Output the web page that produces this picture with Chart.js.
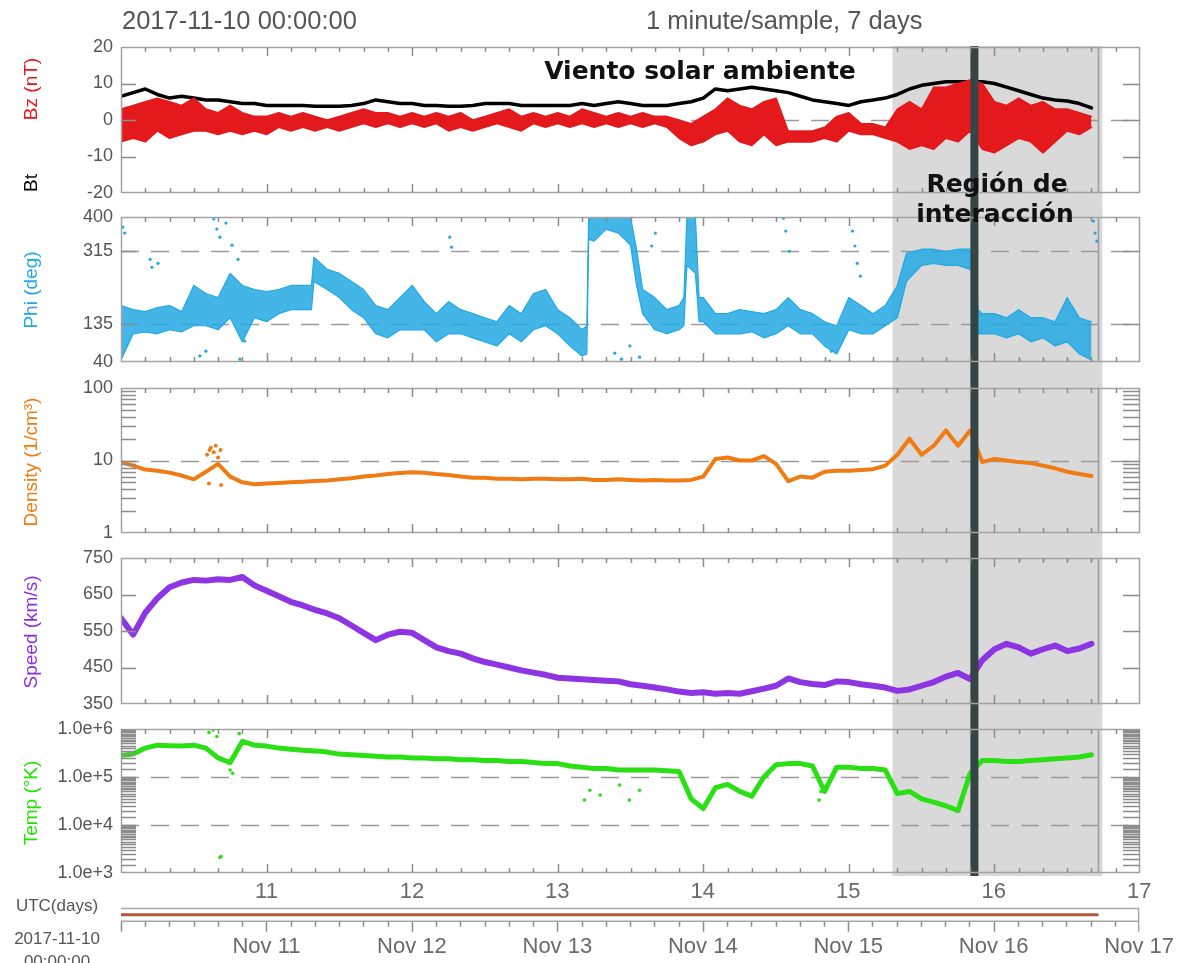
<!DOCTYPE html>
<html lang="es">
<head>
<meta charset="utf-8">
<title>Viento solar 2017-11-10, 7 días</title>
<script src="https://cdn.jsdelivr.net/npm/chart.js@4.4.1/dist/chart.umd.min.js"></script>
<style>
  html, body { margin: 0; padding: 0; background: #fff; }
  #stage { position: relative; width: 1186px; height: 963px; overflow: hidden;
           font-family: 'Liberation Sans', Arial, sans-serif; }
  #stage canvas { position: absolute; left: 0; }
  .txt { position: absolute; white-space: nowrap; line-height: 1; z-index: 4; }
  .c { transform: translate(-50%, -50%); }
  .l { transform: translate(0, -50%); }
  .v { transform: translate(-50%, -50%) rotate(-90deg); font-size: 19px; }
  .note { font-family: 'DejaVu Sans', sans-serif; font-weight: bold; font-size: 25px; color: #111; z-index: 6; }
</style>
</head>
<body>
<div id="stage">
  <div class="txt l" style="left:122px;top:21px;font-size:25.5px;color:#555;">2017-11-10 00:00:00</div>
  <div class="txt l" style="left:646px;top:21px;font-size:25.5px;color:#555;">1 minute/sample, 7 days</div>

  <div class="txt v" style="left:30px;top:89px;color:#e8141c;">Bz (nT)</div>
  <div class="txt v" style="left:30px;top:183px;color:#000;">Bt</div>
  <div class="txt v" style="left:30px;top:290px;color:#1fa8e6;">Phi (deg)</div>
  <div class="txt v" style="left:30px;top:462px;color:#f27a10;">Density (1/cm³)</div>
  <div class="txt v" style="left:30px;top:632px;color:#8c2ee6;">Speed (km/s)</div>
  <div class="txt v" style="left:30px;top:803px;color:#22e000;">Temp (°K)</div>

  <div class="txt c note" style="left:700px;top:70px;">Viento solar ambiente</div>
  <div class="txt c note" style="left:997px;top:183px;">Región de</div>
  <div class="txt c note" style="left:995px;top:213px;">interacción</div>

  <div class="txt c" style="left:57px;top:905px;font-size:17px;color:#555;">UTC(days)</div>
  <div class="txt c" style="left:57px;top:938px;font-size:17px;color:#555;">2017-11-10</div>
  <div class="txt c" style="left:57px;top:961px;font-size:17px;color:#555;">00:00:00</div>
</div>

<script>
// ---- Solar wind readings, one value every two hours from 2017-11-10 00:00 UTC ----
const SAMPLE_STEP_H = 2;
const SPAN_H = 168;

// Total field Bt (nT)
const btValues = [
  6.5, 7.5, 8.5, 7, 6, 6.5, 6, 5.5, 5.5, 5,
  4.5, 4.5, 4, 4, 4, 4, 3.8, 3.8, 3.8, 4,
  4.5, 5.5, 5, 4.5, 4.5, 4, 4, 3.8, 3.8, 4,
  4.5, 4.5, 4.5, 4, 4, 4, 4, 4, 4.5, 4,
  4.5, 5, 4.5, 4, 4, 4, 4.5, 5, 6, 8.5,
  8, 8.5, 9, 8.5, 8, 7.5, 6.5, 5.5, 5, 4.5,
  4, 5, 5.5, 6, 7, 8.5, 9.5, 10, 10.5, 10.5,
  10.5, 10.5, 10, 9, 8, 7, 6, 5.5, 5.2, 4.5, 3.3
];
// Bz spread within each two-hour bin (nT)
const bzLow = [
  -6, -5, -6, -3, -5, -4, -3, -3, -4, -3,
  -4, -3, -4, -2, -3, -2, -3, -2, -3, -2,
  -1, -2, -1, -2, -1, -2, -1, -3, -2, -3,
  -2, -1, -2, -3, -1, -2, -1, -2, -1, -2,
  -1, -2, -1, -2, -1, -2, -5, -7, -6, -4,
  -3, -6, -7, -4, -7, -6, -6, -6, -5, -6,
  -3, -4, -4, -5, -6, -8, -7, -8, -5, -6,
  -3, -8, -9, -7, -5, -6, -9, -6, -3, -4, -2
];
const bzHigh = [
  3, 4, 5, 6, 5, 4, 6, 3, 2, 4,
  2, 1, 1, 2, 1, 2, 1, 0, 1, 2,
  3, 2, 2, 1, 2, 1, 2, 1, 2, 0,
  1, 2, 3, 1, 2, 1, 2, 1, 3, 2,
  1, 2, 1, 2, 1, 1, 0, -1, 1, 3,
  6, 4, 3, 5, 6, -3, -3, -3, -2, 1,
  2, -1, -1, -2, 3, 5, 3, 9, 9, 10,
  11, 10, 5, 4, 6, 4, 5, 3, 3, 2, 1
];
// Phi main band: reading times (h) with the low and high edge of the band (deg)
const phiHours = [
  0, 2, 4, 6, 8, 10, 12, 14, 16, 18,
  20, 22, 24, 26, 28, 30, 31.4, 31.8, 34, 36,
  38, 40, 42, 44, 46, 48, 50, 52, 54, 56,
  58, 60, 62, 64, 66, 68, 70, 72, 74, 76,
  76.8, 77.1, 78, 80, 82, 84, 85, 86, 88, 90,
  92, 92.8, 93.3, 94.7, 95.3, 96, 98, 100, 102, 104,
  106, 108, 110, 112, 114, 116, 118, 120, 122, 124,
  126, 128, 129.5, 132, 134, 136, 138, 140, 140.8, 141.3,
  142, 144, 146, 148, 150, 152, 154, 156, 158, 160
];
const phiLow = [
  45, 110, 115, 110, 120, 115, 130, 130, 120, 150,
  90, 150, 140, 160, 170, 170, 170, 240, 220, 200,
  170, 150, 110, 100, 120, 120, 120, 90, 110, 110,
  100, 90, 80, 110, 90, 120, 130, 110, 80, 55,
  60, 345, 340, 370, 360, 330, 230, 160, 120, 110,
  120, 130, 280, 260, 140, 140, 110, 110, 110, 115,
  100, 110, 130, 110, 110, 80, 60, 120, 110, 110,
  130, 150, 240, 280, 285, 280, 280, 270, 250, 110,
  110, 110, 100, 110, 90, 100, 80, 90, 60, 45
];
const phiHigh = [
  180, 170, 165, 175, 180, 165, 230, 210, 200, 260,
  230, 220, 215, 220, 230, 230, 230, 300, 270, 260,
  240, 220, 180, 170, 200, 230, 190, 160, 190, 170,
  160, 150, 140, 180, 160, 210, 220, 170, 150, 120,
  130, 400, 400, 400, 400, 400, 320, 220, 200, 170,
  180, 200, 400, 400, 200, 200, 160, 160, 170, 165,
  160, 170, 200, 170, 160, 140, 130, 200, 180, 160,
  180, 230, 310, 320, 320, 315, 320, 320, 320, 170,
  160, 160, 150, 170, 150, 150, 140, 200, 150, 140
];
// Isolated Phi readings outside the main band: time (h) and angle (deg)
const phiSpotHours = [0.1, 0.3, 0.6, 4.8, 5.1, 6.1, 13, 14, 15.3, 15.8, 16.3, 17.3, 18.3, 19.3, 19.6, 20.4,
  54.2, 54.5, 81.4, 82.5, 83.9, 85.5, 87.5, 88.1, 109.2, 109.6, 110.2, 116.8, 117.1,
  120.6, 121, 121.4, 121.9, 160.3, 160.6, 160.9];
const phiSpotDeg = [400, 375, 360, 295, 275, 285, 55, 67, 395, 370, 350, 385, 330, 295, 47, 92,
  350, 325, 62, 47, 80, 52, 328, 360, 397, 365, 315, 42, 67,
  365, 328, 285, 253, 390, 360, 340];
// Proton density (1/cm3)
const densityValues = [
  9.5, 8.5, 7.5, 7.2, 6.8, 6.2, 5.5, 7, 9, 6,
  5, 4.7, 4.8, 4.9, 5, 5.1, 5.2, 5.3, 5.5, 5.7,
  6, 6.2, 6.5, 6.7, 6.9, 6.8, 6.5, 6.3, 6, 5.8,
  5.8, 5.6, 5.6, 5.5, 5.6, 5.6, 5.5, 5.5, 5.6, 5.4,
  5.4, 5.5, 5.4, 5.3, 5.4, 5.3, 5.3, 5.4, 6, 10.5,
  11, 10, 10, 11.5, 9, 5.2, 6, 5.8, 7, 7.2,
  7.2, 7.4, 7.6, 8.5, 12, 20, 12, 16, 26, 16,
  26, 9.5, 10.5, 10, 9.5, 9.2, 8.5, 7.8, 7, 6.5, 6.1
];
// Isolated density readings: time (h) and value (1/cm3)
const densitySpotHours = [14.2, 14.6, 14.8, 15.3, 15.6, 16.0, 16.4, 14.5, 16.5];
const densitySpotValues = [12, 14, 15, 13, 16, 11, 14, 4.8, 4.6];
// Bulk speed (km/s)
const speedValues = [
  585, 540, 600, 640, 670, 683, 690, 688, 692, 690,
  698, 675, 660, 645, 630, 620, 608, 598, 585, 565,
  545, 525, 540, 548, 545, 525, 505, 495, 488, 475,
  465, 458, 450, 442, 436, 430, 422, 420, 418, 416,
  414, 412, 404, 400, 395, 390, 384, 380, 382, 378,
  380, 378, 385, 392, 400, 420, 410, 405, 402, 412,
  410, 404, 400, 395, 386, 390, 400, 410, 425, 435,
  418, 470, 500, 515, 505, 488, 500, 510, 495, 502, 515
];
// Proton temperature (K)
const tempValues = [
  2.8e5, 3.0e5, 4.0e5, 4.6e5, 4.5e5, 4.4e5, 4.6e5, 4.0e5, 2.5e5, 2.0e5,
  5.5e5, 4.6e5, 4.4e5, 4.0e5, 3.8e5, 3.6e5, 3.5e5, 3.3e5, 3.0e5, 2.9e5,
  2.8e5, 2.7e5, 2.6e5, 2.6e5, 2.5e5, 2.5e5, 2.4e5, 2.4e5, 2.3e5, 2.3e5,
  2.2e5, 2.2e5, 2.1e5, 2.1e5, 2.0e5, 1.9e5, 1.9e5, 1.7e5, 1.6e5, 1.5e5,
  1.5e5, 1.4e5, 1.4e5, 1.4e5, 1.4e5, 1.35e5, 1.3e5, 3.5e4, 2.2e4, 6e4,
  7e4, 5e4, 4e4, 1.0e5, 1.8e5, 1.9e5, 1.9e5, 1.7e5, 5e4, 1.6e5,
  1.6e5, 1.5e5, 1.5e5, 1.4e5, 4.5e4, 5e4, 3.5e4, 3e4, 2.5e4, 2e4,
  1.2e5, 2.2e5, 2.2e5, 2.1e5, 2.1e5, 2.2e5, 2.3e5, 2.4e5, 2.5e5, 2.6e5, 2.9e5
];
// Isolated temperature readings: time (h) and value (K)
const tempSpotHours = [14.5, 15.2, 15.8, 16.3, 16.5, 18, 18.4, 19.5, 76.4, 77.3, 79, 82.2, 83.8, 85.5, 115.1, 115.4];
const tempSpotK = [8.5e5, 9.5e5, 7e5, 2.1e3, 2.2e3, 1.4e5, 1.2e5, 8e5, 3.3e4, 5.3e4, 4.2e4, 6.8e4, 3.3e4, 5.3e4, 3.3e4, 5e4];

// Time markers (hours after the start)
const regionStartH = 127.2;
const regionEndH = 161.8;
const boundaryH = 140.7;
const dataEndH = 161.1;

// Day labels of the time axis
const dayTickHours = [24, 48, 72, 96, 120, 144, 168];
const dayNumbers = ['11', '12', '13', '14', '15', '16', '17'];
const dayDates = ['Nov 11', 'Nov 12', 'Nov 13', 'Nov 14', 'Nov 15', 'Nov 16', 'Nov 17'];

// ---- drawing ----
const FONT = "'Liberation Sans', Arial, sans-serif";
Chart.defaults.font.family = FONT;
const stage = document.getElementById('stage');
const PLOT_LEFT = 121, PLOT_RIGHT = 1140, W = 1186, MARGIN = 24;

const sampleHours = btValues.map((_, i) => i * SAMPLE_STEP_H);
const series = vals => vals.map((v, i) => ({ x: sampleHours[i], y: v }));
const pairs = (hs, vs) => hs.map((h, i) => ({ x: h, y: vs[i] }));

function lineSet(data, color, width, extra) {
  return Object.assign({ data, borderColor: color, backgroundColor: color, borderWidth: width,
    pointRadius: 0, tension: 0, fill: false, clip: 0, borderJoinStyle: 'round', borderCapStyle: 'round' }, extra || {});
}
function spotSet(data, color, r) {
  return { data, showLine: false, pointRadius: r, pointBorderWidth: 0, pointBackgroundColor: color,
    borderColor: color, backgroundColor: color, clip: 0 };
}
function logMinors(decades, mults) {
  const out = [];
  decades.forEach(d => mults.forEach(m => out.push(d * m)));
  return out;
}

const C = { bz: '#e3191c', bt: '#000000', phi: '#22a8e2', dens: '#f07b12', speed: '#8e35e3', temp: '#2ae014' };

const panels = [
  { top: 47, bottom: 193, shadeTop: 46, shadeBottom: 205,
    y: { type: 'linear', min: -20, max: 20 }, tickValues: [-20, -10, 0, 10, 20], fmt: v => String(v),
    side: [-10, 0, 10], minor: [], dashed: [0],
    datasets: [
      lineSet(series(bzLow), C.bz, 1.5),
      lineSet(series(bzHigh), C.bz, 1.5, { fill: '-1' }),
      lineSet(series(btValues), C.bt, 3.5)
    ] },
  { top: 217, bottom: 362, shadeTop: 205, shadeBottom: 375,
    y: { type: 'linear', min: 40, max: 400 }, tickValues: [40, 135, 315, 400], fmt: v => String(v),
    side: [135, 315], minor: [], dashed: [135, 315],
    datasets: [
      spotSet(pairs(phiSpotHours, phiSpotDeg), C.phi, 1.6),
      lineSet(pairs(phiHours, phiLow), C.phi, 1.2),
      lineSet(pairs(phiHours, phiHigh), C.phi, 1.2, { fill: '-1', backgroundColor: 'rgba(34,168,226,0.85)' })
    ] },
  { top: 388, bottom: 533, shadeTop: 375, shadeBottom: 546,
    y: { type: 'logarithmic', min: 1, max: 100 }, tickValues: [1, 10, 100], fmt: v => String(v),
    side: [10], minor: logMinors([1, 10], [2, 3, 4, 5, 6, 7, 8, 9]), dashed: [10],
    datasets: [
      spotSet(pairs(densitySpotHours, densitySpotValues), C.dens, 2),
      lineSet(series(densityValues), C.dens, 4)
    ] },
  { top: 558, bottom: 704, shadeTop: 546, shadeBottom: 717,
    y: { type: 'linear', min: 350, max: 750 }, tickValues: [350, 450, 550, 650, 750], fmt: v => String(v),
    side: [450, 550, 650], minor: [], dashed: [],
    datasets: [ lineSet(series(speedValues), C.speed, 6) ] },
  { top: 729, bottom: 873, shadeTop: 717, shadeBottom: 876,
    y: { type: 'logarithmic', min: 1e3, max: 1e6 }, tickValues: [1e3, 1e4, 1e5, 1e6], fmt: v => Number(v).toExponential(1),
    side: [1e4, 1e5], minor: logMinors([1e3, 1e4, 1e5], [1.5, 2, 2.5, 3, 3.5, 4, 4.5, 5, 5.5, 6, 6.5, 7, 7.5, 8, 8.5, 9, 9.5]), dashed: [1e4, 1e5],
    datasets: [
      spotSet(pairs(tempSpotHours, tempSpotK), C.temp, 1.8),
      lineSet(series(tempValues), C.temp, 5)
    ] }
];

function edgeTicks(ctx, x, a) {
  // 4-hour ticks and longer day ticks along the top and bottom edges
  ctx.strokeStyle = '#8c8c8c'; ctx.lineWidth = 1.5; ctx.setLineDash([]);
  ctx.beginPath();
  for (let h = 4; h < SPAN_H; h += 4) {
    const px = Math.round(x.getPixelForValue(h)) + 0.5;
    const len = h % 24 === 0 ? 9 : 5;
    ctx.moveTo(px, a.top); ctx.lineTo(px, a.top + len);
    ctx.moveTo(px, a.bottom); ctx.lineTo(px, a.bottom - len);
  }
  ctx.stroke();
}

function decor(p, canvasTop) {
  const sTop = p.shadeTop - canvasTop, sBottom = p.shadeBottom - canvasTop;
  return {
    id: 'decor',
    beforeDatasetsDraw(chart) {
      const { ctx, chartArea: a, scales: { x, y } } = chart;
      ctx.save();
      const x0 = x.getPixelForValue(regionStartH), x1 = x.getPixelForValue(regionEndH);
      ctx.fillStyle = '#d9d9d9';
      ctx.fillRect(x0, sTop, x1 - x0, sBottom - sTop);
      ctx.setLineDash([18, 12]);
      ctx.strokeStyle = '#9a9a9a'; ctx.lineWidth = 1.5;
      p.dashed.forEach(v => {
        const yy = Math.round(y.getPixelForValue(v)) + 0.5;
        ctx.beginPath(); ctx.moveTo(a.left, yy); ctx.lineTo(a.right, yy); ctx.stroke();
      });
      ctx.restore();
    },
    afterDatasetsDraw(chart) {
      const { ctx, chartArea: a, scales: { x, y } } = chart;
      ctx.save();
      // sector boundary
      ctx.fillStyle = '#354545';
      const bx = x.getPixelForValue(boundaryH);
      ctx.fillRect(bx - 4, sTop, 8, sBottom - sTop);
      // end of record
      ctx.strokeStyle = '#9a9a9a'; ctx.lineWidth = 1.5;
      const ex = Math.round(x.getPixelForValue(dataEndH)) + 0.5;
      ctx.beginPath(); ctx.moveTo(ex, a.top); ctx.lineTo(ex, a.bottom); ctx.stroke();
      // frame
      ctx.strokeStyle = '#a3a3a3'; ctx.lineWidth = 1.5;
      ctx.strokeRect(a.left + 0.5, a.top + 0.5, a.right - a.left - 1, a.bottom - a.top - 1);
      edgeTicks(ctx, x, a);
      // value ticks on both sides
      ctx.strokeStyle = '#8c8c8c'; ctx.lineWidth = 1.5;
      ctx.beginPath();
      p.side.concat(p.minor).forEach(v => {
        const yy = Math.round(y.getPixelForValue(v)) + 0.5;
        if (yy < a.top || yy > a.bottom) return;
        ctx.moveTo(a.left, yy); ctx.lineTo(a.left + 15, yy);
        ctx.moveTo(a.right - 17, yy); ctx.lineTo(a.right, yy);
      });
      ctx.stroke();
      ctx.restore();
    }
  };
}

function pin(chart, pad, canvasTop, top, bottom) {
  for (let k = 0; k < 3; k++) {
    const a = chart.chartArea;
    const dT = (top - canvasTop) - a.top;
    const dB = a.bottom - (bottom - canvasTop);
    if (Math.abs(dT) < 0.01 && Math.abs(dB) < 0.01) return;
    pad.top += dT; pad.bottom += dB;
    chart.options.layout.padding = Object.assign({}, pad);
    chart.update('none');
  }
}

function addCanvas(top, bottom) {
  const cv = document.createElement('canvas');
  cv.width = W; cv.height = bottom - top;
  cv.style.top = top + 'px';
  cv.style.width = W + 'px'; cv.style.height = (bottom - top) + 'px';
  stage.appendChild(cv);
  return cv;
}

panels.forEach(p => {
  const canvasTop = p.top - MARGIN, canvasBottom = p.bottom + MARGIN;
  const cv = addCanvas(canvasTop, canvasBottom);
  const pad = { left: 0, right: W - PLOT_RIGHT, top: MARGIN, bottom: MARGIN };
  const chart = new Chart(cv, {
    type: 'line',
    data: { datasets: p.datasets },
    options: {
      responsive: false, maintainAspectRatio: false, animation: false, events: [],
      layout: { padding: Object.assign({}, pad) },
      plugins: { legend: { display: false }, tooltip: { enabled: false } },
      scales: {
        x: { type: 'linear', min: 0, max: SPAN_H, display: false },
        y: Object.assign({}, p.y, {
          position: 'left',
          grid: { display: false, drawTicks: false },
          border: { display: false },
          afterFit: s => { s.width = PLOT_LEFT; },
          afterBuildTicks: s => { s.ticks = p.tickValues.map(v => ({ value: v })); },
          ticks: { color: '#555', font: { family: FONT, size: 18 }, padding: 8, autoSkip: false,
                   callback: v => p.fmt(v) }
        })
      }
    },
    plugins: [decor(p, canvasTop)]
  });
  pin(chart, pad, canvasTop, p.top, p.bottom);
});

// ---- time bar with day labels ----
(function () {
  const canvasTop = 876, canvasBottom = 963, top = 908, bottom = 922;
  const cv = addCanvas(canvasTop, canvasBottom);
  const pad = { left: PLOT_LEFT, right: W - PLOT_RIGHT, top: 0, bottom: 0 };
  const axisCommon = {
    type: 'linear', min: 0, max: SPAN_H,
    grid: { display: false, drawTicks: false }, border: { display: false },
    afterBuildTicks: s => { s.ticks = dayTickHours.map(v => ({ value: v })); }
  };
  const chart = new Chart(cv, {
    type: 'line',
    data: { datasets: [ lineSet([{ x: 0, y: 0 }, { x: dataEndH, y: 0 }], '#b4573a', 3, { xAxisID: 'x' }) ] },
    options: {
      responsive: false, maintainAspectRatio: false, animation: false, events: [],
      layout: { padding: Object.assign({}, pad) },
      plugins: { legend: { display: false }, tooltip: { enabled: false } },
      scales: {
        x: Object.assign({}, axisCommon, { position: 'bottom',
          ticks: { color: '#6a6a6a', font: { family: FONT, size: 22 }, padding: 12, maxRotation: 0, autoSkip: false,
                   callback: (v, i) => dayDates[i] } }),
        x2: Object.assign({}, axisCommon, { position: 'top',
          ticks: { color: '#6a6a6a', font: { family: FONT, size: 22 }, padding: 3, maxRotation: 0, autoSkip: false,
                   callback: (v, i) => dayNumbers[i] } }),
        y: { display: false, min: -1, max: 1 }
      }
    },
    plugins: [{
      id: 'bar',
      beforeDatasetsDraw(ch) {
        const { ctx, chartArea: a, scales: { x } } = ch;
        ctx.save();
        ctx.strokeStyle = '#a8a8a8'; ctx.lineWidth = 1.5;
        ctx.beginPath();
        ctx.moveTo(a.left, a.top + 0.5); ctx.lineTo(a.right, a.top + 0.5);
        ctx.moveTo(a.left, a.bottom - 0.5); ctx.lineTo(a.right, a.bottom - 0.5);
        ctx.moveTo(a.right - 0.5, a.top); ctx.lineTo(a.right - 0.5, a.bottom + 10);
        ctx.stroke();
        ctx.strokeStyle = '#8c8c8c';
        ctx.beginPath();
        for (let h = 0; h < SPAN_H; h += 4) {
          const px = Math.round(x.getPixelForValue(h)) + 0.5;
          const len = h % 24 === 0 ? 10 : 5;
          ctx.moveTo(px, a.bottom); ctx.lineTo(px, a.bottom + len);
        }
        ctx.stroke();
        ctx.restore();
      }
    }]
  });
  pin(chart, pad, canvasTop, top, bottom);
})();
</script>
</body>
</html>
